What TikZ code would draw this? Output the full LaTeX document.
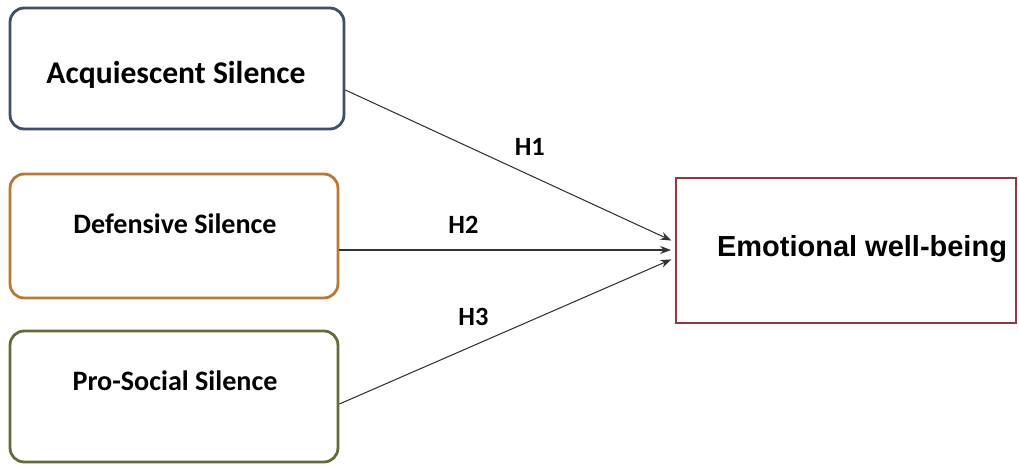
\documentclass[tikz,border=0pt]{standalone}
\usepackage{xcolor}
\usepackage{fontspec}
\setmainfont{Carlito}
\newfontfamily\arialfont{Liberation Sans}
\usepackage{tikz}
\usetikzlibrary{arrows.meta, positioning, calc}

\definecolor{biruacq}{HTML}{3E4F66}
\definecolor{oranyedef}{HTML}{BC7636}
\definecolor{hijaupro}{HTML}{616C3B}
\definecolor{merahemo}{HTML}{8C3B3F}

\begin{document}
\begin{tikzpicture}[
    x=0.02cm, y=-0.02cm,
    kotak/.style={draw, line width=1.6pt, rounded corners=8pt, fill=white},
    hasil/.style={draw, line width=1.6pt, fill=white},
    judul/.style={font=\bfseries\fontsize{16}{18}\selectfont, inner sep=0pt},
    panah/.style={-{Stealth[length=2.2mm, width=1.6mm]}, line width=0.6pt,
                  draw=black!80, shorten >=2pt},
    hip/.style={font=\bfseries\fontsize{15}{17}\selectfont, inner sep=0pt}
  ]
    \useasboundingbox (0,0) rectangle (1019,464);
    % kotak variabel bebas
    \node[kotak, draw=biruacq, minimum width=6.68cm, minimum height=2.42cm]
      (acq) at (177,68.5) {};
    \node[kotak, draw=oranyedef, minimum width=6.56cm, minimum height=2.48cm]
      (def) at (174,236) {};
    \node[kotak, draw=hijaupro, minimum width=6.56cm, minimum height=2.62cm]
      (pro) at (174,396.5) {};
    % kotak variabel terikat
    \node[hasil, draw=merahemo, minimum width=6.8cm, minimum height=2.9cm]
      (emo) at (846,250.5) {};
    % teks
    \node[judul, font=\bfseries\fontsize{18}{20}\selectfont] (acqT) at (176,75)
      {Acquiescent Silence};
    \node[judul] (defT) at (175,224) {Defensive Silence};
    \node[judul] (proT) at (175,381) {Pro-Social Silence};
    \node[judul, font=\arialfont\bfseries\fontsize{16.5}{18}\selectfont]
      (emoT) at (862,249) {Emotional well-being};
    % hipotesis
    \draw[panah] ($(acq.east)+(0,21.5)$) -- node[hip, pos=0.56, above=11pt] (h1) {H1}
      ($(emo.west)+(0,-8.5)$);
    \draw[panah] ($(def.east)+(0,14)$) -- node[hip, pos=0.37, above=9pt] (h2) {H2}
      ($(emo.west)+(0,-0.5)$);
    \draw[panah] ($(pro.east)+(0,7.5)$) -- node[hip, pos=0.40, above=11pt] (h3) {H3}
      ($(emo.west)+(0,7.5)$);
\end{tikzpicture}
\end{document}
